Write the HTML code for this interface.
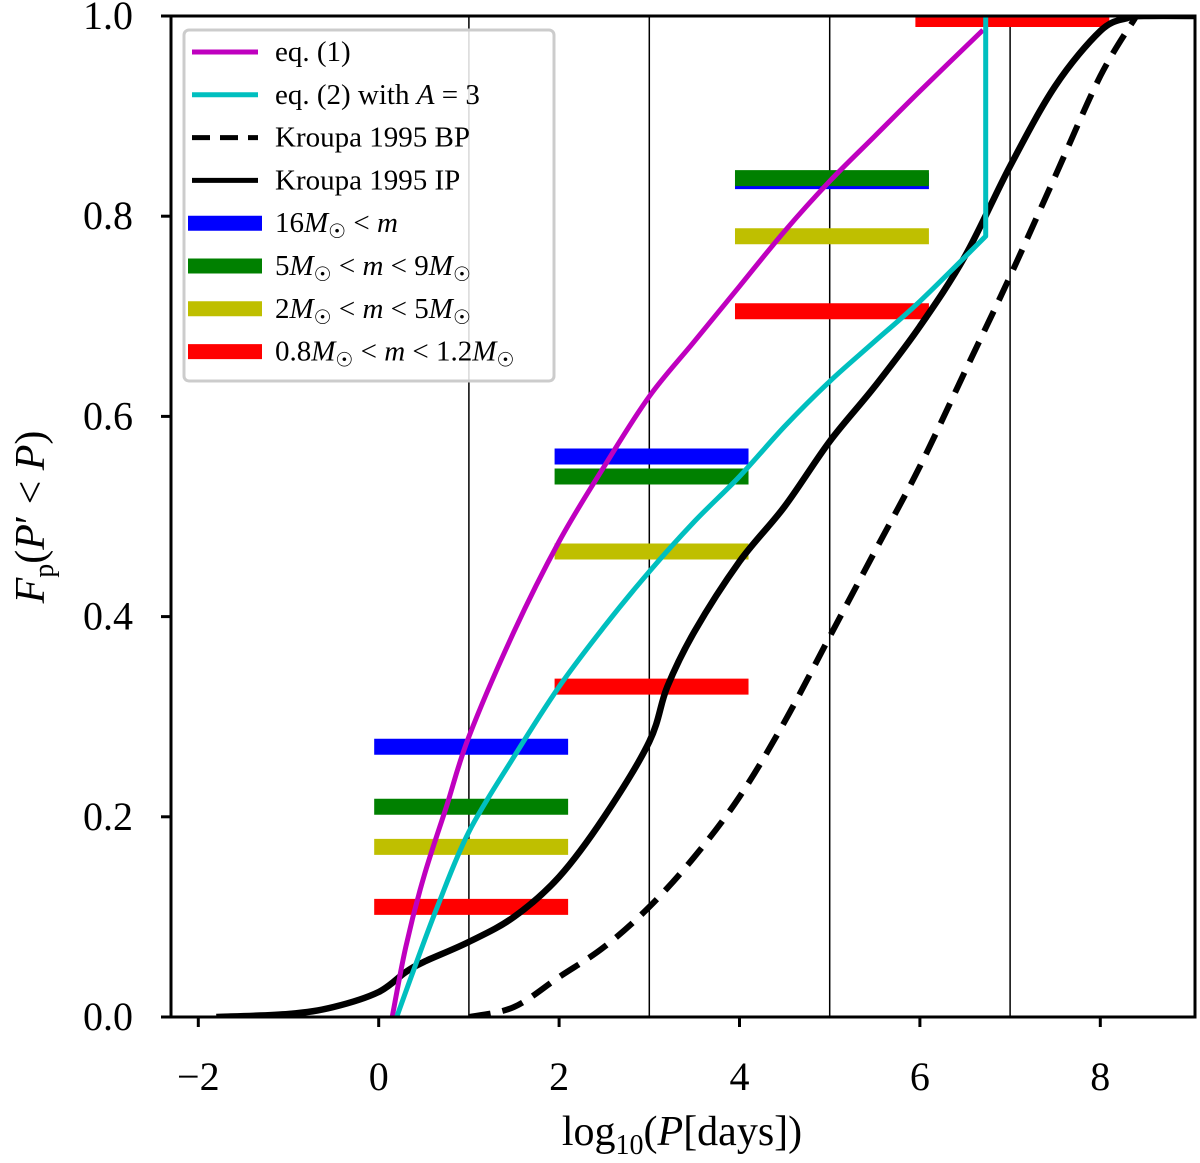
<!DOCTYPE html>
<html><head><meta charset="utf-8"><style>
html,body{margin:0;padding:0;background:#fff;}
svg text{font-family:"Liberation Serif",serif;fill:#000;}
</style></head><body>
<svg id="chart" width="1200" height="1158" viewBox="0 0 1200 1158" xmlns="http://www.w3.org/2000/svg">
<g id="plot"></g>
<g id="axes"></g>
<g id="legend"></g>
</svg>
<script>
const xTicks = [-2, 0, 2, 4, 6, 8];
const yTicks = [0.0, 0.2, 0.4, 0.6, 0.8, 1.0];
const vLines = [1, 3, 5, 7];
const eq1X = [0.15, 0.3, 0.5, 0.75, 1, 1.5, 2, 2.5, 3, 3.5, 4, 4.5, 5, 5.5, 6, 6.7];
const eq1Y = [0, 0.07, 0.14, 0.21, 0.28, 0.385, 0.475, 0.55, 0.62, 0.675, 0.73, 0.785, 0.835, 0.88, 0.925, 0.986];
const eq2X = [0.2, 0.4, 0.65, 1, 1.5, 2, 2.5, 3, 3.5, 4, 4.5, 5, 5.5, 6, 6.73, 6.73];
const eq2Y = [0, 0.05, 0.11, 0.185, 0.26, 0.33, 0.39, 0.445, 0.495, 0.54, 0.59, 0.635, 0.675, 0.715, 0.78, 1.0];
const ipX = [-1.8, -1, -0.5, 0, 0.3, 0.5, 1, 1.5, 2, 2.5, 3, 3.2, 3.5, 4, 4.5, 5, 5.5, 6, 6.5, 7, 7.5, 8, 8.3, 8.5, 9.1];
const ipY = [0, 0.003, 0.01, 0.025, 0.045, 0.055, 0.075, 0.1, 0.14, 0.2, 0.275, 0.33, 0.385, 0.455, 0.51, 0.575, 0.63, 0.69, 0.76, 0.85, 0.93, 0.985, 0.998, 1.0, 1.0];
const bpX = [1, 1.5, 2, 2.5, 3, 3.5, 4, 4.5, 5, 5.5, 6, 6.5, 7, 7.5, 8, 8.4];
const bpY = [0, 0.01, 0.04, 0.07, 0.11, 0.16, 0.22, 0.295, 0.38, 0.465, 0.55, 0.645, 0.74, 0.84, 0.94, 1.0];
const barStart = [-0.05, 1.95, 3.95, 5.95];
const barEnd = [2.1, 4.1, 6.1, 8.1];
const blueVals = [0.27, 0.56, 0.835, null];
const greenVals = [0.21, 0.54, 0.838, null];
const yellowVals = [0.17, 0.465, 0.78, null];
const redVals = [0.11, 0.33, 0.705, 0.997];

const X0=378.7, XS=90.2, Y0=1017, YS=1001, L=171, R=1195, T=16, B=1017;
const sx=v=>X0+v*XS, sy=v=>Y0-v*YS;
const NS="http://www.w3.org/2000/svg";
function mk(tag, attrs, parent){const e=document.createElementNS(NS,tag);for(const k in attrs)e.setAttribute(k,attrs[k]);parent.appendChild(e);return e;}
const plot=document.getElementById('plot'), axes=document.getElementById('axes'), leg=document.getElementById('legend');
const clip=mk('clipPath',{id:'clp'},document.getElementById('chart'));
mk('rect',{x:L,y:T,width:R-L,height:B-T},clip);
plot.setAttribute('clip-path','url(#clp)');

vLines.forEach(v=>{const e=mk('line',{x1:sx(v),x2:sx(v),y1:T,y2:B,stroke:'#000','stroke-width':1.5},plot);

});

function bars(vals,color,name){vals.forEach((v,i)=>{if(v===null)return;
const e=mk('line',{x1:sx(barStart[i]),x2:sx(barEnd[i]),y1:sy(v),y2:sy(v),stroke:color,'stroke-width':16},plot);

});}
bars(redVals,'#ff0000','red');
bars(yellowVals,'#bfbf00','yellow');
bars(blueVals,'#0000ff','blue');
bars(greenVals,'#008000','green');

function smoothPath(xs,ys,tail){
  const n=tail?xs.length-1:xs.length;
  const P=xs.slice(0,n).map((x,i)=>[sx(x),sy(ys[i])]);
  let d='M'+P[0][0].toFixed(1)+','+P[0][1].toFixed(1);
  for(let i=0;i<P.length-1;i++){
    const p0=P[Math.max(i-1,0)],p1=P[i],p2=P[i+1],p3=P[Math.min(i+2,P.length-1)];
    const c1=[p1[0]+(p2[0]-p0[0])/6,p1[1]+(p2[1]-p0[1])/6];
    const c2=[p2[0]-(p3[0]-p1[0])/6,p2[1]-(p3[1]-p1[1])/6];
    d+=' C'+c1[0].toFixed(1)+','+c1[1].toFixed(1)+' '+c2[0].toFixed(1)+','+c2[1].toFixed(1)+' '+p2[0].toFixed(1)+','+p2[1].toFixed(1);
  }
  if(tail)d+=' L'+sx(xs[xs.length-1]).toFixed(1)+','+sy(ys[ys.length-1]).toFixed(1);
  return d;
}
function line(xs,ys,color,w,dash,name,tail){
const a={d:smoothPath(xs,ys,tail),fill:'none',stroke:color,'stroke-width':w,'stroke-linejoin':'round'};if(dash)a['stroke-dasharray']=dash;
const e=mk('path',a,plot);

}
line(bpX,bpY,'#000',6,'22,12','kroupa-bp-line',false);
line(ipX,ipY,'#000',6.5,null,'kroupa-ip-line',false);
line(eq1X,eq1Y,'#bf00bf',5,null,'eq1-line',false);
line(eq2X,eq2Y,'#00bfbf',5,null,'eq2-line',true);

mk('rect',{x:L,y:T,width:R-L,height:B-T,fill:'none',stroke:'#000','stroke-width':3},axes);
xTicks.forEach(v=>{mk('line',{x1:sx(v),x2:sx(v),y1:B,y2:B+10,stroke:'#000','stroke-width':3},axes);
const t=mk('text',{x:sx(v),y:1090,'font-size':40,'text-anchor':'middle'},axes);t.textContent=v<0?'\u2212'+(-v):String(v);

});
yTicks.forEach(v=>{mk('line',{x1:L-10,x2:L,y1:sy(v),y2:sy(v),stroke:'#000','stroke-width':3},axes);
const t=mk('text',{x:133,y:sy(v)+13,'font-size':40,'text-anchor':'end'},axes);t.textContent=v.toFixed(1);

});
const xl=mk('text',{x:682,y:1145,'font-size':42,'text-anchor':'middle'},axes);
xl.innerHTML='log<tspan font-size="28" dy="9">10</tspan><tspan dy="-9">(</tspan><tspan font-style="italic">P</tspan>[days])';


const yl=mk('text',{x:0,y:0,'font-size':42,'text-anchor':'middle',transform:'translate(44,517) rotate(-90)'},axes);
yl.innerHTML='<tspan font-style="italic">F</tspan><tspan font-size="28" dy="9">p</tspan><tspan dy="-9">(</tspan><tspan font-style="italic">P</tspan>\u2032 &lt; <tspan font-style="italic">P</tspan>)';



mk('rect',{x:184,y:30,width:370,height:351,rx:5,fill:'#fff','fill-opacity':0.85,stroke:'#ccc','stroke-width':3},leg);
const entries=[['#bf00bf',5,null,'eq. (1)'],['#00bfbf',5,null,'eq. (2) with <tspan font-style="italic">A</tspan> = 3'],['#000',5,'22,12','Kroupa 1995 BP'],['#000',5,null,'Kroupa 1995 IP'],
['#0000ff',15,null,'16<tspan font-style="italic">M</tspan><tspan font-size="20" dy="6">\u2609</tspan><tspan dy="-6"> &lt; </tspan><tspan font-style="italic">m</tspan>'],
['#008000',15,null,'5<tspan font-style="italic">M</tspan><tspan font-size="20" dy="6">\u2609</tspan><tspan dy="-6"> &lt; </tspan><tspan font-style="italic">m</tspan> &lt; 9<tspan font-style="italic">M</tspan><tspan font-size="20" dy="6">\u2609</tspan>'],
['#bfbf00',15,null,'2<tspan font-style="italic">M</tspan><tspan font-size="20" dy="6">\u2609</tspan><tspan dy="-6"> &lt; </tspan><tspan font-style="italic">m</tspan> &lt; 5<tspan font-style="italic">M</tspan><tspan font-size="20" dy="6">\u2609</tspan>'],
['#ff0000',15,null,'0.8<tspan font-style="italic">M</tspan><tspan font-size="20" dy="6">\u2609</tspan><tspan dy="-6"> &lt; </tspan><tspan font-style="italic">m</tspan> &lt; 1.2<tspan font-style="italic">M</tspan><tspan font-size="20" dy="6">\u2609</tspan>']];
entries.forEach((en,i)=>{const y=52+i*42.8;const thick=en[1]>10;
const a={x1:thick?188:192,x2:thick?262:258,y1:y,y2:y,stroke:en[0],'stroke-width':en[1]};if(en[2])a['stroke-dasharray']='18,10';
const ln=mk('line',a,leg);


const t=mk('text',{x:275,y:y+9,'font-size':29},leg);t.innerHTML=en[3];

});
</script>
</body></html>
